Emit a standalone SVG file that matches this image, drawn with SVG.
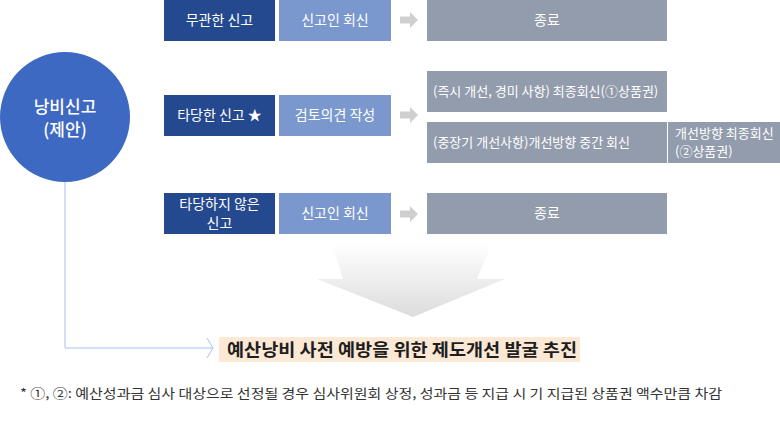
<svg xmlns="http://www.w3.org/2000/svg" width="780" height="435" viewBox="0 0 780 435">
<defs>
<style>
text{font-family:"Noto Sans CJK KR","Noto Sans",sans-serif;}
.w{fill:#ffffff;font-size:14px;text-anchor:middle;}
.ws{fill:#ffffff;font-size:13px;}
.dk{fill:#24498f;}
.lt{fill:#7a98cd;}
.gr{fill:#939cad;}
.sa{fill:#cfcfcf;}
.conn{fill:none;stroke:#a9c0ea;stroke-width:1;}
</style>
<linearGradient id="bg" x1="0" y1="0" x2="0" y2="1">
<stop offset="0" stop-color="#ffffff"/>
<stop offset="1" stop-color="#dcdcdc"/>
</linearGradient>
<path id="sarrow" d="M0,-3.5 H10 V-8 L18,0 L10,8 V3.5 H0 Z"/>
</defs>
<rect width="780" height="435" fill="#ffffff"/>

<g id="connectors">
<polyline class="conn" points="65,182 65,348 213,348"/>
<polyline class="conn" points="207,338 213,348 207,358"/>
<use href="#sarrow" class="sa" x="400" y="20"/>
<use href="#sarrow" class="sa" x="400" y="115"/>
<use href="#sarrow" class="sa" x="400" y="214"/>
<path d="M332,243 L492,243 L477,279 L505,279 L413,317 L317,279 L343,279 Z" fill="url(#bg)"/>
</g>

<g id="n-report">
<circle cx="65" cy="117" r="65" fill="#3d69c2"/>
<text x="65" y="113" fill="#ffffff" font-size="17" font-weight="500" text-anchor="middle">낭비신고</text>
<text x="65" y="136" fill="#ffffff" font-size="17" font-weight="500" text-anchor="middle">(제안)</text>
</g>

<g id="n-irrelevant">
<rect class="dk" x="164" y="0" width="111" height="41"/>
<text class="w" x="219.5" y="25">무관한 신고</text>
</g>
<g id="n-reply1">
<rect class="lt" x="279" y="0" width="112" height="41"/>
<text class="w" x="335" y="25">신고인 회신</text>
</g>
<g id="n-end1">
<rect class="gr" x="427" y="0" width="240" height="41"/>
<text class="w" x="547" y="25" font-size="13">종료</text>
</g>

<g id="n-valid">
<rect class="dk" x="164" y="95" width="111" height="41"/>
<text class="w" x="219.5" y="120">타당한 신고 ★</text>
</g>
<g id="n-review">
<rect class="lt" x="279" y="95" width="112" height="41"/>
<text class="w" x="335" y="120">검토의견 작성</text>
</g>
<g id="n-final1">
<rect class="gr" x="427" y="71" width="240" height="41"/>
<text class="ws" x="433" y="96">(즉시 개선, 경미 사항) 최종회신(①상품권)</text>
</g>
<g id="n-mid">
<rect class="gr" x="427" y="122" width="240" height="41"/>
<text class="ws" x="433" y="147">(중장기 개선사항)개선방향 중간 회신</text>
</g>
<g id="n-final2">
<rect class="gr" x="668" y="122" width="112" height="41"/>
<text class="ws" x="675" y="138" font-size="12.5">개선방향 최종회신</text>
<text class="ws" x="675" y="156" font-size="12.5">(②상품권)</text>
</g>

<g id="n-invalid">
<rect class="dk" x="164" y="193" width="111" height="41"/>
<text class="w" x="219.5" y="208.5" font-size="13">타당하지 않은</text>
<text class="w" x="219.5" y="227.5" font-size="13">신고</text>
</g>
<g id="n-reply3">
<rect class="lt" x="279" y="193" width="112" height="41"/>
<text class="w" x="335" y="218">신고인 회신</text>
</g>
<g id="n-end3">
<rect class="gr" x="427" y="193" width="240" height="41"/>
<text class="w" x="547" y="218" font-size="13">종료</text>
</g>

<g id="n-result">
<rect x="219" y="337" width="361" height="25" fill="#fbe8d5"/>
<text x="227" y="355.5" fill="#1e1e1e" font-size="17.5" font-weight="bold" textLength="350" lengthAdjust="spacingAndGlyphs">예산낭비 사전 예방을 위한 제도개선 발굴 추진</text>
</g>

<text x="20" y="398" fill="#333333" font-size="13" textLength="702" lengthAdjust="spacingAndGlyphs">* ①, ②: 예산성과금 심사 대상으로 선정될 경우 심사위원회 상정, 성과금 등 지급 시 기 지급된 상품권 액수만큼 차감</text>
</svg>
